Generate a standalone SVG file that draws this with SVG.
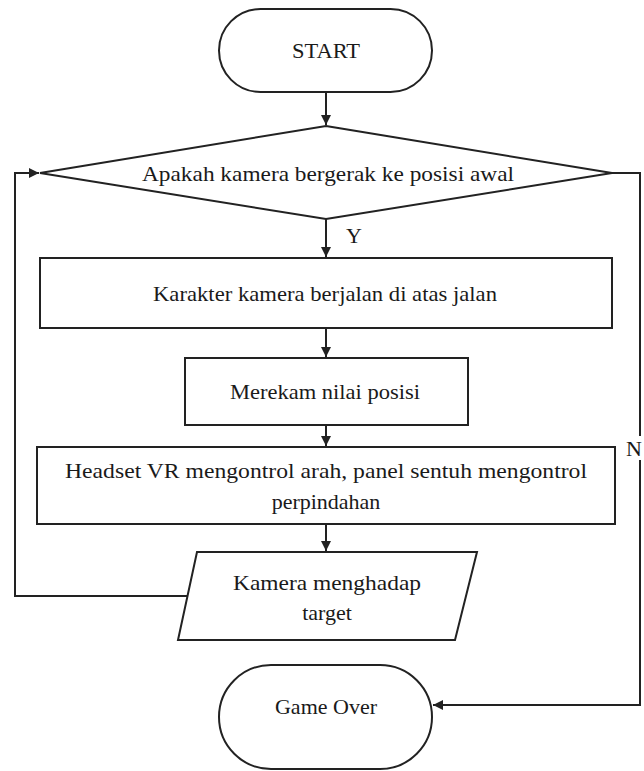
<svg xmlns="http://www.w3.org/2000/svg" width="644" height="771" viewBox="0 0 644 771">
  <style>
    .shape { fill: #ffffff; stroke: #222222; stroke-width: 2; }
    .link { fill: none; stroke: #222222; stroke-width: 2; }
    .label { font-family: 'Liberation Serif', 'Times New Roman', Times, serif; font-size: 22px; fill: #1a1a1a; text-anchor: middle; }
  </style>
  <defs>
    <marker id="arrow" viewBox="0 0 10 10" refX="10" refY="5" markerWidth="10" markerHeight="10" markerUnits="userSpaceOnUse" orient="auto">
      <path d="M0,0 L10,5 L0,10 z" fill="#222222"/>
    </marker>
  </defs>
  <rect width="644" height="771" fill="#ffffff"/>

  <g id="connectors">
    <line class="link" x1="326" y1="92" x2="326" y2="125" marker-end="url(#arrow)"/>
    <line class="link" x1="326" y1="219" x2="326" y2="257" marker-end="url(#arrow)"/>
    <line class="link" x1="326" y1="328" x2="326" y2="357" marker-end="url(#arrow)"/>
    <line class="link" x1="326" y1="425" x2="326" y2="446" marker-end="url(#arrow)"/>
    <line class="link" x1="326" y1="524" x2="326" y2="551" marker-end="url(#arrow)"/>
    <polyline class="link" points="187,596 15,596 15,173 39,173" marker-end="url(#arrow)"/>
    <polyline class="link" points="612,173 640,173 640,436"/>
    <polyline class="link" points="640,460 640,705 433,705" marker-end="url(#arrow)"/>
    <text class="label" x="354" y="243">Y</text>
    <text class="label" x="626" y="456" style="text-anchor:start">N</text>
  </g>

  <g id="start">
    <rect class="shape" x="219" y="9" width="213" height="83" rx="41.5"/>
    <text class="label" x="326" y="58" textLength="68" lengthAdjust="spacingAndGlyphs">START</text>
  </g>

  <g id="check-position">
    <polygon class="shape" points="326,126 612,173 326,219 40,173"/>
    <text class="label" x="328" y="181" textLength="372" lengthAdjust="spacingAndGlyphs">Apakah kamera bergerak ke posisi awal</text>
  </g>

  <g id="walk">
    <rect class="shape" x="40" y="258" width="572" height="70"/>
    <text class="label" x="325" y="301" textLength="344" lengthAdjust="spacingAndGlyphs">Karakter kamera berjalan di atas jalan</text>
  </g>

  <g id="record">
    <rect class="shape" x="185" y="358" width="283" height="67"/>
    <text class="label" x="325" y="399" textLength="190" lengthAdjust="spacingAndGlyphs">Merekam nilai posisi</text>
  </g>

  <g id="control">
    <rect class="shape" x="37" y="447" width="578" height="77"/>
    <text class="label" x="326" y="478" textLength="522" lengthAdjust="spacingAndGlyphs">Headset VR mengontrol arah, panel sentuh mengontrol</text>
    <text class="label" x="326" y="509">perpindahan</text>
  </g>

  <g id="face-target">
    <polygon class="shape" points="197,552 477,552 455,640 178,640"/>
    <text class="label" x="327" y="590" textLength="188" lengthAdjust="spacingAndGlyphs">Kamera menghadap</text>
    <text class="label" x="327" y="620">target</text>
  </g>

  <g id="game-over">
    <rect class="shape" x="219" y="665" width="213" height="104" rx="52"/>
    <text class="label" x="326" y="714">Game Over</text>
  </g>
</svg>
